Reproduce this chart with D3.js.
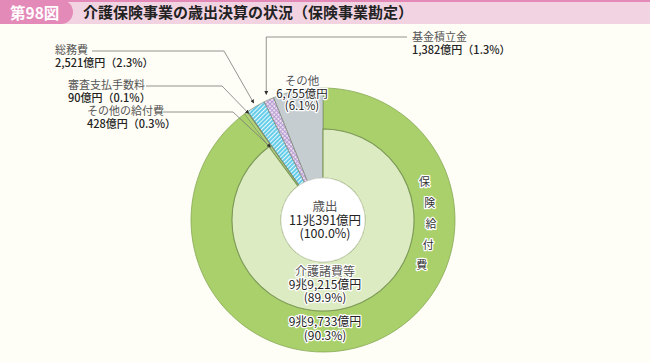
<!DOCTYPE html>
<html>
<head>
<meta charset="utf-8">
<script src="https://cdn.jsdelivr.net/npm/d3@7"></script>
<style>
  body { margin: 0; background: #fffef6; }
  svg { display: block; font-family: "Noto Sans CJK JP", "Noto Sans", sans-serif; }
</style>
</head>
<body>
<div id="chart"></div>
<script>
// data: 歳出の内訳 (億円), 反時計回りに12時から
const names   = ["その他", "基金積立金", "総務費", "審査支払手数料", "その他の給付費", "介護諸費等"];
const values  = [6755, 1382, 2521, 90, 428, 99215];
const percent = ["6.1", "1.3", "2.3", "0.1", "0.3", "89.9"];
const amounts = ["6,755億円", "1,382億円", "2,521億円", "90億円", "428億円", "9兆9,215億円"];
// 保険給付費 = 審査支払手数料 + その他の給付費 + 介護諸費等
const benefitMembers = ["審査支払手数料", "その他の給付費", "介護諸費等"];
const benefitName = "保険給付費";
const benefitAmount = "9兆9,733億円";
const benefitPercent = "90.3";
const totalLabel = ["歳出", "11兆391億円", "(100.0%)"];
const title = "介護保険事業の歳出決算の状況（保険事業勘定）";
const figNo = "第98図";

const W = 650, H = 362;
const cx = 323, cy = 220;
const r0 = 42, r1 = 91, r2 = 132;

const svg = d3.select("#chart").append("svg")
    .attr("width", W).attr("height", H);

svg.append("rect").attr("width", W).attr("height", H).attr("fill", "#fffef6");

// patterns
const defs = svg.append("defs");
const hatch = defs.append("pattern").attr("id", "hatch")
    .attr("patternUnits", "userSpaceOnUse").attr("width", 3).attr("height", 3)
    .attr("patternTransform", "rotate(45)");
hatch.append("rect").attr("width", 3).attr("height", 3).attr("fill", "#5fcbe8");
hatch.append("rect").attr("width", 1.1).attr("height", 3).attr("fill", "#e8f8fc");

const check = defs.append("pattern").attr("id", "check")
    .attr("patternUnits", "userSpaceOnUse").attr("width", 3).attr("height", 3)
    .attr("patternTransform", "rotate(45)");
check.append("rect").attr("width", 3).attr("height", 3).attr("fill", "#ecdff2");
check.append("rect").attr("width", 1).attr("height", 3).attr("fill", "#b9a0d3");
check.append("rect").attr("width", 3).attr("height", 1).attr("fill", "#b9a0d3");

defs.append("marker").attr("id", "arrow")
    .attr("viewBox", "0 0 6 6").attr("refX", 5).attr("refY", 3)
    .attr("markerWidth", 5).attr("markerHeight", 5).attr("orient", "auto")
    .append("path").attr("d", "M0,0 L6,3 L0,6 Z").attr("fill", "#333");

// title bar
svg.append("rect").attr("x", 0).attr("y", 0).attr("width", W).attr("height", 24).attr("fill", "#f1d3e2");
svg.append("rect").attr("x", 0).attr("y", 0).attr("width", W).attr("height", 2).attr("fill", "#e48ab9");
svg.append("path").attr("d", "M0,0 H61 A12,12 0 0 1 61,24 H0 Z").attr("fill", "#e48ab9");
svg.append("text").attr("x", 10).attr("y", 18.5).attr("fill", "#fff")
    .attr("font-size", 15.5).attr("font-weight", "bold").text(figNo);
svg.append("text").attr("x", 83).attr("y", 18).attr("fill", "#222")
    .attr("font-size", 15).attr("font-weight", "bold").text(title);

// pie, counterclockwise from 12 o'clock
const pie = d3.pie().sort(null).value(d => d.value)
    .startAngle(0).endAngle(-2 * Math.PI);
const leaves = names.map((n, i) => ({ name: n, value: values[i], pct: percent[i], amt: amounts[i] }));
const arcs = pie(leaves);
const byName = {};
arcs.forEach(a => byName[a.data.name] = a);

const fills = {
  "その他": "#c6cdd1",
  "基金積立金": "url(#check)",
  "総務費": "url(#hatch)",
  "審査支払手数料": "#d3e58f",
  "その他の給付費": "#b3d57a",
  "介護諸費等": "#dcebc2"
};

const g = svg.append("g").attr("transform", "translate(" + cx + "," + cy + ")");

// outer ring 保険給付費
const bArcs = benefitMembers.map(n => byName[n]);
const bStart = d3.max(bArcs, a => Math.max(a.startAngle, a.endAngle));
const bEnd = d3.min(bArcs, a => Math.min(a.startAngle, a.endAngle));
g.append("path")
    .attr("d", d3.arc().innerRadius(r1).outerRadius(r2)({ startAngle: bStart, endAngle: bEnd }))
    .attr("fill", "#a9d06b").attr("stroke", "#86a855").attr("stroke-width", 0.8);

// leaf slices
const arcInner = d3.arc().innerRadius(r0).outerRadius(r1);
const arcFull = d3.arc().innerRadius(r0).outerRadius(r2);
g.selectAll("path.leaf")
    .data(arcs)
    .join("path")
    .attr("class", "leaf")
    .attr("d", d => d.data.name == "介護諸費等" ? arcInner(d) : arcFull(d))
    .attr("fill", d => fills[d.data.name])
    .attr("stroke", d => d.data.name == "介護諸費等" ? "#7d9a57" : "#6e7a66")
    .attr("stroke-width", d => d.data.name == "介護諸費等" ? 1.1 : 0.6);

// center circle
g.append("circle").attr("r", r0).attr("fill", "#fff").attr("stroke", "#e4e4dc").attr("stroke-width", 0.8);

function halo(sel, w) {
  return sel.attr("stroke", "#fff").attr("stroke-width", w || 3)
    .attr("stroke-linejoin", "round").attr("paint-order", "stroke");
}

// center labels
g.selectAll("text.total").data(totalLabel).join("text")
    .attr("class", "total").attr("text-anchor", "middle")
    .attr("x", 2).attr("y", (d, i) => -9 + i * 13.5)
    .attr("font-size", 12.5).attr("fill", (d, i) => i == 0 ? "#555" : "#222")
    .text(d => d);

// 介護諸費等 label
const kaigo = byName["介護諸費等"];
g.selectAll("text.kaigo")
    .data([kaigo.data.name, kaigo.data.amt, "(" + kaigo.data.pct + "%)"])
    .join("text").attr("class", "kaigo").attr("text-anchor", "middle")
    .attr("x", 2).attr("y", (d, i) => 56 + i * 13)
    .attr("font-size", 12).attr("fill", (d, i) => i == 0 ? "#555" : "#222")
    .text(d => d)
    .call(halo, 2.5);

// 保険給付費 outer labels
g.selectAll("text.ben")
    .data([benefitAmount, "(" + benefitPercent + "%)"])
    .join("text").attr("class", "ben").attr("text-anchor", "middle")
    .attr("x", 2).attr("y", (d, i) => 106 + i * 14)
    .attr("font-size", 12).attr("fill", "#222")
    .text(d => d)
    .call(halo, 2.5);

// 保険給付費 vertical characters along the ring
const charAngle = d3.scaleLinear().domain([0, benefitName.length - 1]).range([70, 114]);
g.selectAll("text.benchar")
    .data(benefitName.split(""))
    .join("text").attr("class", "benchar").attr("text-anchor", "middle")
    .attr("x", (d, i) => 108 * Math.sin(charAngle(i) * Math.PI / 180))
    .attr("y", (d, i) => -110 * Math.cos(charAngle(i) * Math.PI / 180) + 4)
    .attr("font-size", 11).attr("fill", "#333")
    .text(d => d)
    .call(halo, 2.5);

// その他 label inside the gray slice
const other = byName["その他"];
g.selectAll("text.other")
    .data([other.data.name, other.data.amt, "(" + other.data.pct + "%)"])
    .join("text").attr("class", "other").attr("text-anchor", "middle")
    .attr("x", -21).attr("y", (d, i) => -135 + i * 12.5)
    .attr("font-size", 11.5).attr("fill", (d, i) => i == 0 ? "#555" : "#222")
    .text(d => d)
    .call(halo, 2.5);

// leader labels outside
const callouts = [
  { name: "総務費", x: 55, y: 54, lineX0: 92, elbowX: 224, tipR: r2 + 4 },
  { name: "審査支払手数料", x: 68, y: 89, lineX0: 146, elbowX: 222, tipR: r2 - 2 },
  { name: "その他の給付費", x: 87, y: 115, lineX0: 163, elbowX: 233, tipR: r1 - 1 },
  { name: "基金積立金", x: 412, y: 41, lineX0: 407, elbowX: null, tipR: r2 + 6 }
];

callouts.forEach(c => {
  const a = byName[c.name];
  const ang = (a.startAngle + a.endAngle) / 2;
  const tx = cx + c.tipR * Math.sin(ang);
  const ty = cy - c.tipR * Math.cos(ang);
  const ly = c.y - 3;
  let pts;
  if (c.elbowX == null) {
    pts = [[c.lineX0, ly - 1], [tx, ly - 1], [tx, ty]];
  } else {
    pts = [[c.lineX0, ly], [c.elbowX, ly], [tx, ty]];
  }
  svg.append("path")
      .attr("d", d3.line()(pts))
      .attr("fill", "none").attr("stroke", "#777").attr("stroke-width", 0.8)
      .attr("marker-end", "url(#arrow)");

  svg.append("text").attr("x", c.x).attr("y", c.y)
      .attr("font-size", 11).attr("fill", "#555").text(a.data.name);
  svg.append("text").attr("x", c.x).attr("y", c.y + 13)
      .attr("font-size", 11).attr("font-weight", 500).attr("fill", "#222")
      .text(a.data.amt + "（" + a.data.pct + "%）");
});
</script>
</body>
</html>
